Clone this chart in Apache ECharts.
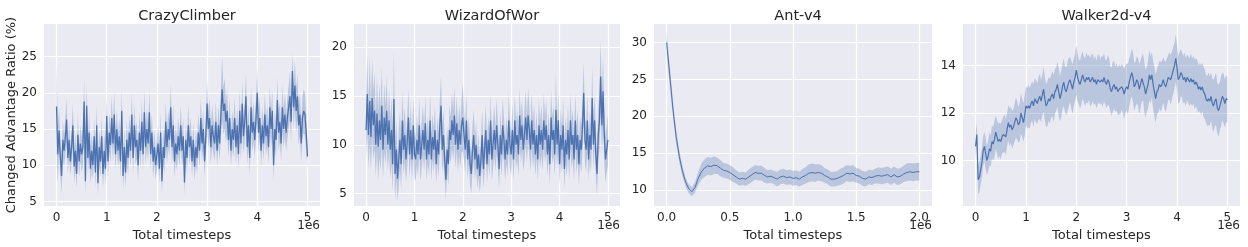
<!DOCTYPE html>
<html><head><meta charset="utf-8">
<script src="https://cdn.jsdelivr.net/npm/echarts@6/dist/echarts.min.js"></script>
<style>html,body{margin:0;padding:0;background:#fff}#c{width:1248px;height:247px}</style>
</head><body><div id="c"></div>
<script>
const titles = ['CrazyClimber', 'WizardOfWor', 'Ant-v4', 'Walker2d-v4'];
const xStep = 25000; // timesteps between logged points
const xTicksAtari = [0, 1e6, 2e6, 3e6, 4e6, 5e6];
const xTicksAnt = [0, 0.5e6, 1e6, 1.5e6, 2e6];
const yTicks1 = [5, 10, 15, 20, 25];
const yTicks2 = [5, 10, 15, 20];
const yTicks3 = [10, 15, 20, 25, 30];
const yTicks4 = [10, 12, 14];
const yLabel = 'Changed Advantage Ratio (%)';
const xLabel = 'Total timesteps';

const crazyMean = [18.1,11.5,14.8,11.2,8.5,13.5,12.0,13.8,16.3,11.0,
13.5,10.5,12.5,15.5,9.8,12.0,8.8,14.2,10.5,13.0,
11.5,12.5,18.8,7.8,18.2,11.0,14.5,9.5,12.0,10.0,
14.0,9.0,15.5,7.5,12.5,10.5,14.0,8.8,12.0,9.5,
16.8,10.5,14.5,12.8,16.5,13.0,17.0,11.5,15.0,12.0,
14.0,10.5,17.5,8.5,12.5,9.0,13.5,11.0,14.5,12.0,
17.0,11.0,15.5,12.5,13.5,10.0,14.5,12.0,16.0,11.5,
17.3,12.5,15.0,13.0,17.3,11.5,14.5,10.5,12.5,10.0,
11.5,13.0,9.5,14.5,7.8,12.5,11.0,16.0,12.5,15.0,
13.5,18.0,12.5,15.5,10.5,13.0,11.5,14.0,12.0,15.5,
12.0,14.0,7.6,13.5,11.0,15.5,12.5,14.0,10.5,13.5,
9.8,12.5,11.0,14.5,12.0,16.5,13.0,15.0,10.5,14.0,
18.5,15.0,16.5,12.5,15.5,14.0,13.0,16.0,12.0,15.5,
13.0,17.0,20.5,17.5,18.5,16.0,17.5,13.5,16.5,12.0,
15.0,13.5,16.5,12.5,15.5,11.5,17.5,13.0,18.5,14.0,
16.0,19.5,12.5,15.5,11.0,18.0,14.5,16.0,13.5,16.5,
20.0,14.5,16.5,12.0,15.5,13.0,17.0,14.0,15.5,12.5,
18.0,15.0,17.5,10.0,15.0,13.5,19.0,14.5,16.0,13.0,
18.0,15.0,17.0,14.5,16.5,18.0,19.5,16.0,23.0,18.0,
21.0,17.5,19.5,15.5,17.0,13.0,16.5,17.5,17.0,14.5,
11.2];
const crazySpread = [6.5,4.0,3.0,2.5,2.5,2.8,2.2,2.5,3.0,2.2,
2.5,2.0,2.4,3.0,2.2,2.5,2.0,2.8,2.2,2.5,
2.4,2.6,3.0,2.0,3.2,2.4,2.8,2.2,2.6,2.0,
2.6,2.2,3.0,1.8,2.4,2.2,2.8,2.0,2.5,2.2,
2.8,2.2,2.6,2.4,3.0,2.5,3.2,2.2,2.8,2.4,
2.5,2.2,3.0,2.0,2.6,2.2,2.8,2.4,2.6,2.2,
3.0,2.2,2.8,2.4,2.6,2.2,2.8,2.4,3.0,2.2,
3.2,2.4,2.8,2.5,3.0,2.2,2.6,2.2,2.4,2.0,
2.2,2.6,2.0,2.8,1.8,2.4,2.2,2.8,2.4,2.6,
2.4,3.2,2.4,2.8,2.2,2.6,2.2,2.6,2.2,2.8,
2.2,2.6,1.8,2.4,2.2,2.8,2.4,2.6,2.0,2.4,
2.0,2.4,2.2,2.6,2.2,2.8,2.4,2.6,2.2,2.6,
3.2,2.6,2.8,2.4,2.8,2.4,2.4,2.8,2.2,2.8,
2.4,3.0,4.5,3.2,3.5,2.8,3.0,2.4,2.8,2.2,
2.6,2.4,2.8,2.2,2.6,2.2,3.0,2.4,3.2,2.4,
2.8,3.4,2.4,2.8,2.2,3.0,2.6,2.8,2.4,2.8,
3.4,2.6,2.8,2.2,2.6,2.4,3.0,2.6,2.6,2.4,
3.0,2.6,3.0,2.2,2.6,2.4,3.2,2.6,2.8,2.4,
3.2,2.6,3.0,2.6,2.8,3.0,3.4,2.8,2.6,3.0,
3.4,3.0,3.2,2.8,3.0,2.6,3.0,3.0,3.0,2.6,
1.8];

const wizardMean = [11.5,15.2,11.0,14.5,10.8,14.8,12.0,13.5,10.0,13.2,
9.8,12.5,10.5,14.0,9.5,12.8,11.0,13.5,10.0,12.5,
9.5,11.5,8.0,14.7,7.0,9.5,6.5,8.5,10.5,8.0,
12.5,9.5,11.0,8.5,10.2,12.8,9.0,11.5,8.5,12.0,
9.0,8.5,10.5,9.0,12.0,8.5,10.0,11.5,9.5,12.2,
8.5,10.5,9.0,12.5,8.5,10.8,9.5,11.5,8.0,10.5,
9.0,12.0,14.0,9.5,11.0,8.5,6.4,9.5,8.0,11.5,
10.5,12.5,11.0,13.0,10.0,12.2,9.5,11.5,10.0,12.0,
12.8,11.0,9.5,12.5,8.5,10.5,8.0,7.0,9.5,11.0,
8.5,10.0,7.5,9.0,6.8,8.5,11.0,7.5,9.5,11.5,
8.0,10.5,9.0,12.5,8.5,10.0,11.5,9.5,12.0,10.0,
7.5,11.0,9.0,12.0,10.5,8.5,10.5,9.0,12.5,10.0,
9.0,11.5,8.5,12.5,10.0,11.0,9.0,13.0,10.5,12.0,
9.5,11.0,12.8,10.5,13.0,11.5,9.5,12.5,10.0,11.5,
9.0,11.0,8.5,12.0,10.0,11.5,9.5,12.5,10.5,12.0,
9.0,11.0,8.0,12.8,10.5,11.5,9.0,13.6,10.0,12.5,
8.0,11.0,9.5,12.0,7.5,10.5,9.0,11.5,8.5,12.5,
10.0,11.0,8.5,12.5,9.5,11.0,8.0,10.5,9.5,12.0,
15.3,10.5,9.5,12.5,8.5,11.0,9.5,14.8,10.0,12.5,
9.0,7.0,11.0,12.5,17.0,12.0,15.5,11.0,8.5,9.5,
10.5];
const wizardSpread = [3.0,4.0,3.5,4.5,3.5,4.0,3.5,4.0,3.2,3.8,
3.5,3.8,3.2,4.0,3.0,3.5,3.0,3.6,2.8,3.2,
3.0,3.4,2.8,5.0,2.8,3.0,2.4,2.8,3.0,2.6,
3.0,2.6,2.8,2.4,2.6,3.0,2.4,2.8,2.2,2.8,
2.4,2.2,2.6,2.2,2.8,2.2,2.4,2.6,2.2,2.8,
2.2,2.4,2.2,2.8,2.2,2.4,2.2,2.6,2.0,2.4,
2.2,2.8,3.0,2.4,2.6,2.2,2.0,2.4,2.2,2.6,
2.4,2.8,2.6,3.0,2.4,2.8,2.4,2.6,2.4,2.8,
3.5,2.6,2.4,2.8,2.2,2.4,2.2,2.0,2.4,2.6,
2.2,2.4,2.0,2.2,1.8,2.2,2.6,2.0,2.4,2.6,
2.0,2.4,2.2,2.8,2.2,2.4,2.6,2.2,2.8,2.4,
2.0,2.6,2.2,2.8,2.4,2.2,2.4,2.2,2.8,2.4,
2.2,2.6,2.2,2.8,2.4,2.6,2.2,2.8,2.4,2.6,
2.2,2.6,2.8,2.4,2.8,2.6,2.2,2.8,2.4,2.6,
2.2,2.4,2.2,2.8,2.4,2.6,2.2,2.8,2.4,2.6,
2.2,2.4,2.2,2.8,2.4,2.6,2.2,3.8,2.4,2.8,
2.2,2.6,2.4,2.8,2.0,2.4,2.2,2.6,2.2,2.8,
2.4,2.6,2.2,2.8,2.4,2.6,2.2,2.4,2.4,2.8,
3.2,2.4,2.4,2.8,2.2,2.6,2.4,3.2,2.4,2.8,
2.4,2.2,2.6,3.0,3.8,3.0,3.5,2.8,2.4,2.4,
2.6];

const antMean = [30.0,25.5,21.0,17.3,14.6,12.6,11.1,10.2,9.8,10.4,
11.6,12.5,13.0,13.3,13.2,13.4,13.3,13.0,12.7,12.6,
12.4,12.1,11.8,11.5,11.6,11.5,11.8,12.1,12.4,12.3,
12.3,12.0,11.8,11.9,11.7,11.5,11.8,11.9,11.7,11.8,
11.6,11.7,11.5,11.8,12.0,12.3,12.4,12.3,12.4,12.3,
12.0,11.8,11.5,11.5,11.6,11.8,12.0,12.3,12.2,12.3,
12.0,11.9,11.6,11.5,11.8,11.7,11.9,12.0,11.9,12.0,
12.1,11.8,12.1,11.8,11.9,12.2,12.4,12.5,12.4,12.5,
12.5];
const antSpread = [1.5,1.3,1.1,0.9,0.8,0.7,0.6,0.6,0.6,0.7,
0.9,1.1,1.2,1.2,1.2,1.2,1.1,1.1,1.0,1.0,
1.0,1.0,0.9,0.9,0.9,0.9,1.0,1.0,1.0,1.0,
1.0,1.0,0.9,0.9,0.9,1.0,1.0,1.0,1.0,1.0,
1.0,1.0,1.0,1.1,1.1,1.2,1.2,1.2,1.1,1.1,
1.0,1.0,1.0,1.0,1.0,1.1,1.1,1.1,1.1,1.1,
1.0,1.0,1.0,1.0,1.0,1.0,1.0,1.1,1.1,1.1,
1.1,1.1,1.1,1.1,1.1,1.1,1.2,1.2,1.2,1.2,
1.2];

const walkerMean = [10.6,11.1,9.2,9.3,9.6,9.9,10.4,10.6,10.3,10.0,
10.2,10.5,10.4,10.8,10.7,10.9,11.2,11.0,10.8,10.9,
10.8,11.0,11.1,11.15,11.0,11.3,11.6,11.4,11.5,11.3,
11.4,11.6,11.8,11.7,11.5,11.6,12.0,11.8,11.6,11.9,
12.3,12.2,12.3,12.2,12.4,12.5,12.3,12.6,12.5,12.4,
12.6,12.7,12.5,12.75,13.0,12.6,12.3,12.4,12.6,12.5,
12.7,12.8,12.6,12.9,13.0,13.2,12.9,12.6,12.8,13.1,
13.3,13.0,12.9,13.1,13.3,13.4,13.2,13.0,13.3,13.5,
13.8,13.5,13.3,13.2,13.4,13.6,13.4,13.3,13.5,13.4,
13.5,13.3,13.4,13.5,13.3,13.4,13.2,13.4,13.45,13.3,
13.4,13.3,13.5,13.3,13.2,13.4,13.3,13.0,12.9,13.1,
13.2,13.0,13.1,12.9,13.0,12.95,13.1,13.0,12.8,13.0,
13.1,13.0,13.3,13.5,13.7,13.5,13.1,13.2,13.4,13.3,
13.0,13.2,13.45,13.5,13.1,12.8,13.0,13.2,13.6,13.4,
13.6,13.2,12.9,12.6,12.9,13.0,13.2,13.1,13.2,13.4,
13.2,13.1,13.3,13.5,13.55,13.4,13.6,13.8,14.0,14.3,
13.9,13.4,13.5,13.7,13.6,13.4,13.5,13.3,13.5,13.4,
13.3,13.45,13.3,13.4,13.2,13.3,13.2,13.0,13.1,12.97,
13.1,12.9,12.8,12.6,12.5,12.6,12.5,12.7,12.4,12.3,
12.5,12.6,12.2,12.1,12.3,12.5,12.7,12.6,12.4,12.6,
12.55];
const walkerSpread = [0.5,0.5,0.6,0.65,0.6,0.6,0.65,0.6,0.65,0.6,
0.65,0.7,0.65,0.7,0.7,0.75,0.7,0.7,0.75,0.7,
0.75,0.7,0.75,0.8,0.75,0.7,0.75,0.8,0.75,0.8,
0.75,0.8,0.85,0.8,0.75,0.8,0.85,0.8,0.8,0.85,
0.8,0.85,0.9,0.85,0.8,0.85,0.9,0.85,0.9,0.85,
0.9,0.95,0.9,0.85,0.95,0.9,0.9,0.95,0.9,0.95,
0.9,0.95,1.0,0.95,0.9,0.95,1.0,0.95,1.0,0.95,
1.0,0.95,1.0,1.05,1.0,0.95,1.0,1.05,1.0,1.0,
1.05,1.0,0.95,1.0,1.05,1.0,0.95,1.0,1.05,1.0,
0.95,1.0,1.05,1.0,0.95,1.0,1.0,1.05,1.0,0.95,
1.0,1.05,1.0,0.95,1.0,1.05,1.0,0.95,1.0,1.05,
1.0,0.95,1.0,1.0,1.05,1.0,0.95,1.0,1.05,1.0,
1.0,1.05,1.0,0.95,1.0,1.05,1.0,0.95,1.0,1.0,
1.05,1.0,0.95,1.0,1.05,1.0,0.95,1.0,1.05,1.0,
0.95,1.0,1.05,1.0,0.95,1.0,1.0,1.05,1.0,0.95,
1.0,1.05,1.0,0.95,1.0,1.05,1.0,1.0,0.95,1.0,
0.95,1.0,1.05,1.0,0.95,1.0,1.05,1.0,0.95,1.0,
1.0,1.05,1.0,1.0,1.05,1.0,1.05,1.0,1.0,1.05,
1.0,1.05,1.05,1.0,1.05,1.1,1.05,1.0,1.05,1.1,
1.05,1.1,1.05,1.1,1.0,1.05,1.0,1.05,1.0,1.0,
0.95];

const FONT = 'DejaVu Sans';
const TXT = '#262626';
const LINE = '#4C72B0';
const BAND = 'rgba(76,114,176,0.3)';

const panels = [
  {mean: crazyMean, spread: crazySpread, grid: {left: 44, width: 276}, x: [-0.25e6, 5.25e6], xt: xTicksAtari, y: [4.35, 29.5], yt: yTicks1, dec: 0, lw: 1.3},
  {mean: wizardMean, spread: wizardSpread, grid: {left: 354, width: 266}, x: [-0.25e6, 5.25e6], xt: xTicksAtari, y: [3.7, 22.4], yt: yTicks2, dec: 0, lw: 1.3},
  {mean: antMean, spread: antSpread, grid: {left: 654, width: 278}, x: [-0.1e6, 2.1e6], xt: xTicksAnt, y: [7.85, 32.5], yt: yTicks3, dec: 1, lw: 1.0},
  {mean: walkerMean, spread: walkerSpread, grid: {left: 963, width: 277}, x: [-0.25e6, 5.25e6], xt: xTicksAtari, y: [8.09, 15.74], yt: yTicks4, dec: 0, lw: 1.2}
];

const grid = [], xAxis = [], yAxis = [], series = [], title = [], graphic = [];
panels.forEach((p, k) => {
  grid.push({left: p.grid.left, width: p.grid.width, top: 24, height: 183, show: true, backgroundColor: '#EAEAF2', borderWidth: 0});
  xAxis.push({
    type: 'value', gridIndex: k, min: p.x[0], max: p.x[1],
    axisLine: {show: false}, axisTick: {show: false, customValues: p.xt},
    splitLine: {show: true, lineStyle: {color: '#ffffff', width: 1.2}},
    axisLabel: {customValues: p.xt, color: TXT, fontFamily: FONT, fontSize: 12, margin: 6,
      formatter: v => (v / 1e6).toFixed(p.dec)},
    name: xLabel, nameLocation: 'middle', nameGap: 19,
    nameTextStyle: {color: TXT, fontFamily: FONT, fontSize: 13, verticalAlign: 'top'}
  });
  yAxis.push({
    type: 'value', gridIndex: k, min: p.y[0], max: p.y[1],
    axisLine: {show: false}, axisTick: {show: false, customValues: p.yt},
    splitLine: {show: true, lineStyle: {color: '#ffffff', width: 1.2}},
    axisLabel: {customValues: p.yt, color: TXT, fontFamily: FONT, fontSize: 12, margin: 7},
    name: k === 0 ? yLabel : '', nameLocation: 'middle', nameGap: 26, nameRotate: 90,
    nameTextStyle: {color: TXT, fontFamily: FONT, fontSize: 13}
  });
  title.push({text: titles[k], left: p.grid.left + p.grid.width / 2, top: 4, textAlign: 'center',
    textStyle: {color: TXT, fontFamily: FONT, fontSize: 14.5, fontWeight: 'normal'}});
  graphic.push({type: 'text', right: 1248 - (p.grid.left + p.grid.width), top: 220,
    style: {text: '1e6', fill: TXT, font: '12px "DejaVu Sans"'}});
  const xs = p.mean.map((_, i) => i * xStep);
  const bandData = xs.map((x, i) => [x, p.mean[i] - p.spread[i], p.mean[i] + p.spread[i]]);
  series.push({
    type: 'custom', xAxisIndex: k, yAxisIndex: k, silent: true, clip: true, z: 2,
    data: [[0]],
    renderItem: (params, api) => {
      const upper = bandData.map(d => api.coord([d[0], d[2]]));
      const lower = bandData.map(d => api.coord([d[0], d[1]])).reverse();
      return {type: 'polygon', shape: {points: upper.concat(lower)}, style: {fill: BAND}};
    }
  });
  series.push({type: 'line', xAxisIndex: k, yAxisIndex: k, symbol: 'none', silent: true, z: 5,
    lineStyle: {color: LINE, width: p.lw}, data: xs.map((x, i) => [x, p.mean[i]])});
});

const chart = echarts.init(document.getElementById('c'), null, {renderer: 'canvas'});
chart.setOption({backgroundColor: '#ffffff', animation: false, title, grid, xAxis, yAxis, series, graphic});
</script></body></html>
